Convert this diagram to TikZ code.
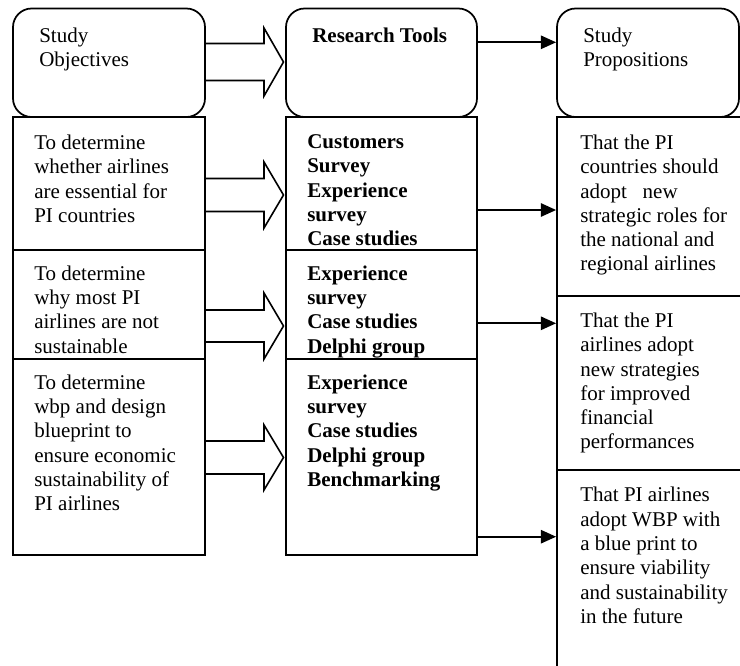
\documentclass[tikz,border=0pt]{standalone}
\usepackage{fontspec}
\setmainfont{Liberation Serif}
\usetikzlibrary{arrows.meta,calc}
\newcommand\fs{\fontsize{15.75}{18.2}\selectfont}
\begin{document}
\begin{tikzpicture}[x=0.75pt,y=-0.75pt,
  box/.style={draw,line width=1.3pt,inner sep=0pt,rectangle},
  rbox/.style={box,rounded corners=14pt},
  txt/.style={anchor=north west,inner sep=0pt,align=left,font=\fs},
  conn/.style={line width=1.5pt,-{Triangle[length=11.5pt,width=10pt]}},
  barrow/.style={draw,line width=1.2pt,line join=miter}]
\useasboundingbox (0,0) rectangle (740,665);
\clip (0,0) rectangle (740,665);
% column headers
\node[rbox,minimum width=144pt,minimum height=81.4pt] (l0) at (109,62.75) {};
\node[rbox,minimum width=143.25pt,minimum height=81.4pt] (m0) at (381.5,62.75) {};
\node[rbox,minimum width=136.5pt,minimum height=81.4pt] (p0) at (648,62.75) {};
% left column
\node[box,minimum width=144pt,minimum height=99.75pt] (l1) at (109,183.5) {};
\node[box,minimum width=144pt,minimum height=81.75pt] (l2) at (109,304.5) {};
\node[box,minimum width=144pt,minimum height=147pt] (l3) at (109,457) {};
% middle column
\node[box,minimum width=143.25pt,minimum height=99.75pt] (m1) at (381.5,183.5) {};
\node[box,minimum width=143.25pt,minimum height=81.75pt] (m2) at (381.5,304.5) {};
\node[box,minimum width=143.25pt,minimum height=147pt] (m3) at (381.5,457) {};
% right column
\node[box,minimum width=152.25pt,minimum height=134.25pt] (p1) at (658.5,206.5) {};
\node[box,minimum width=152.25pt,minimum height=130.5pt] (p2) at (658.5,383) {};
\node[box,minimum width=152.25pt,minimum height=172.5pt] (p3) at (658.5,585) {};
% texts
\node[txt] (tl0) at (39,25.3) {\strut Study\\Objectives};
\node[txt] (tm0) at (312,25.3) {\strut\textbf{Research Tools}};
\node[txt] (tp0) at (583,25.3) {\strut Study\\Propositions};
\node[txt] (tl1) at (34,132.3) {\strut To determine\\whether airlines\\are essential for\\PI countries};
\node[txt] (tl2) at (34,263) {\strut To determine\\why most PI\\airlines are not\\sustainable};
\node[txt] (tl3) at (34,372) {\strut To determine\\wbp and design\\blueprint to\\ensure economic\\sustainability of\\PI airlines};
\node[txt,font=\fs\bfseries] (tm1) at (307,131.3) {\strut Customers\\Survey\\Experience\\survey\\Case studies};
\node[txt,font=\fs\bfseries] (tm2) at (307,263) {\strut Experience\\survey\\Case studies\\Delphi group};
\node[txt,font=\fs\bfseries] (tm3) at (307,372) {\strut Experience\\survey\\Case studies\\Delphi group\\Benchmarking};
\node[txt] (tp1) at (580,132.3) {\strut That the PI\\countries should\\adopt\ \ \ new\\strategic roles for\\the national and\\regional airlines};
\node[txt] (tp2) at (580,310.4) {\strut That the PI\\airlines adopt\\new strategies\\for improved\\financial\\performances};
\node[txt] (tp3) at (580,484.7) {\strut That PI airlines\\adopt WBP with\\a blue print to\\ensure viability\\and sustainability\\in the future};
% line arrows
\coordinate (y1) at (0,42.3);
\coordinate (y2) at (0,210);
\coordinate (y3) at (0,323.3);
\coordinate (y4) at (0,536.7);
\draw[conn] (m0.east |- y1) -- (p0.west |- y1);
\draw[conn] (m1.east |- y2) -- (p1.west |- y2);
\draw[conn] (m2.east |- y3) -- (p2.west |- y3);
\draw[conn] (m3.east |- y4) -- (p3.west |- y4);
% block arrows
\coordinate (t1) at (283.5,62);
\coordinate (t2) at (283.5,195);
\coordinate (t3) at (283.5,326);
\coordinate (t4) at (283.5,457.5);
\draw[barrow] ($(t1)+(-78.5,-18.5)$) -- ++(59,0) -- ++(0,-15.5) -- (t1) -- ++(-19.5,34) -- ++(0,-15.5) -- ++(-59,0);
\draw[barrow] ($(t2)+(-78.5,-16.5)$) -- ++(59,0) -- ++(0,-16.5) -- (t2) -- ++(-19.5,33) -- ++(0,-16.5) -- ++(-59,0);
\draw[barrow] ($(t3)+(-78.5,-16)$) -- ++(59,0) -- ++(0,-17) -- (t3) -- ++(-19.5,33) -- ++(0,-17) -- ++(-59,0);
\draw[barrow] ($(t4)+(-78.5,-16.5)$) -- ++(59,0) -- ++(0,-16) -- (t4) -- ++(-19.5,32.5) -- ++(0,-16) -- ++(-59,0);
\end{tikzpicture}
\end{document}
